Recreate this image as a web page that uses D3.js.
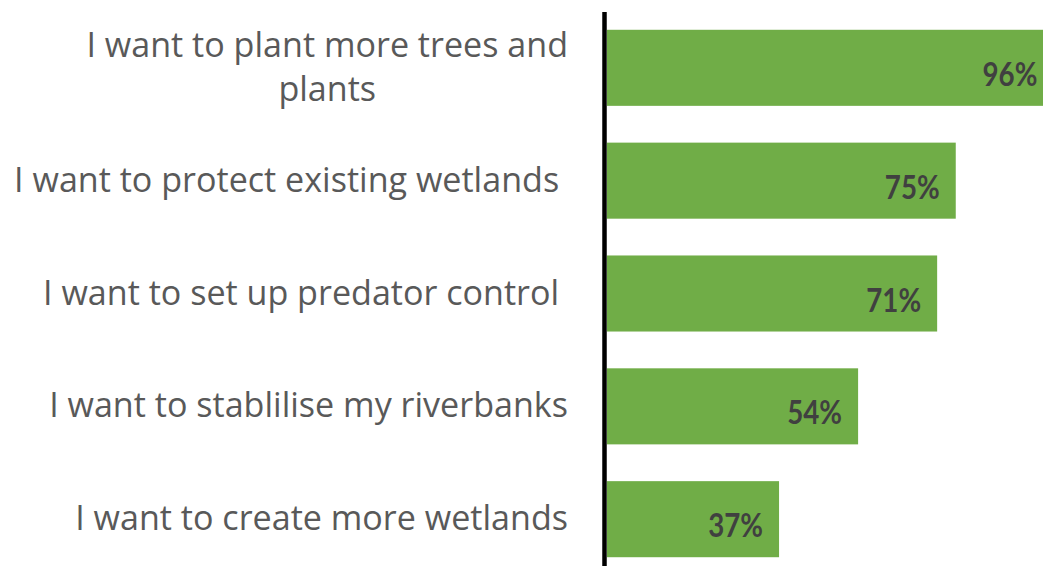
<!DOCTYPE html>
<html><head><meta charset="utf-8">
<script src="https://cdn.jsdelivr.net/npm/d3@7"></script>
<style>body{margin:0;background:#fff;overflow:hidden}</style>
</head><body>
<svg id="chart" width="1043" height="566"></svg>
<script>
const categories = [
  ["I want to plant more trees and", "plants"],
  ["I want to protect existing wetlands "],
  ["I want to set up predator control "],
  ["I want to stablilise my riverbanks"],
  ["I want to create more wetlands"]
];
const values = [96, 75, 71, 54, 37];
const valueLabels = ["96%", "75%", "71%", "54%", "37%"];

const svg = d3.select("#chart");
const W = 1043, H = 566;
const keys = categories.map((c, i) => i);

const x = d3.scaleLinear().domain([0, 100]).range([607, 1072]);
const y = d3.scaleBand().domain(keys).range([-7, 594]).padding(0.326);

svg.append("g").selectAll("rect").data(values).join("rect")
  .attr("x", x(0))
  .attr("y", (d, i) => y(i))
  .attr("width", d => x(d) - x(0))
  .attr("height", y.bandwidth())
  .attr("fill", "#70AD47");

// axis line
svg.append("line")
  .attr("x1", 604.5).attr("x2", 604.5)
  .attr("y1", 12).attr("y2", H)
  .attr("stroke", "#000").attr("stroke-width", 4.5);

// value labels
svg.append("g").selectAll("g").data(values).join("g")
  .attr("transform", (d, i) => `translate(${x(d) - 16},${y(i) + y.bandwidth() / 2 + 18}) scale(0.84,1)`)
  .append("text")
  .attr("text-anchor", "end")
  .attr("font-family", "Lato, sans-serif")
  .attr("font-weight", "bold")
  .attr("font-size", 33)
  .attr("fill", "#404040")
  .text((d, i) => valueLabels[i]);

// category labels
const labelRight = 568;
const lineH = 44;
const lg = svg.append("g")
  .attr("font-family", "'Open Sans', sans-serif")
  .attr("font-size", 34.1)
  .attr("fill", "#595959");

categories.forEach((lines, i) => {
  const cy = y(i) + y.bandwidth() / 2;
  const n = lines.length;
  const t = lg.append("text")
    .attr("xml:space", "preserve");
  lines.forEach((ln, j) => {
    t.append("tspan")
      .attr("y", cy + 11 + (j - (n - 1) / 2) * lineH)
      .text(ln);
  });
  if (n === 1) {
    t.attr("text-anchor", "end");
    t.selectAll("tspan").attr("x", labelRight);
  } else {
    let maxW = 0;
    t.selectAll("tspan").each(function() { maxW = Math.max(maxW, this.getComputedTextLength()); });
    t.attr("text-anchor", "middle");
    t.selectAll("tspan").attr("x", labelRight - maxW / 2);
  }
});
</script>
</body></html>
